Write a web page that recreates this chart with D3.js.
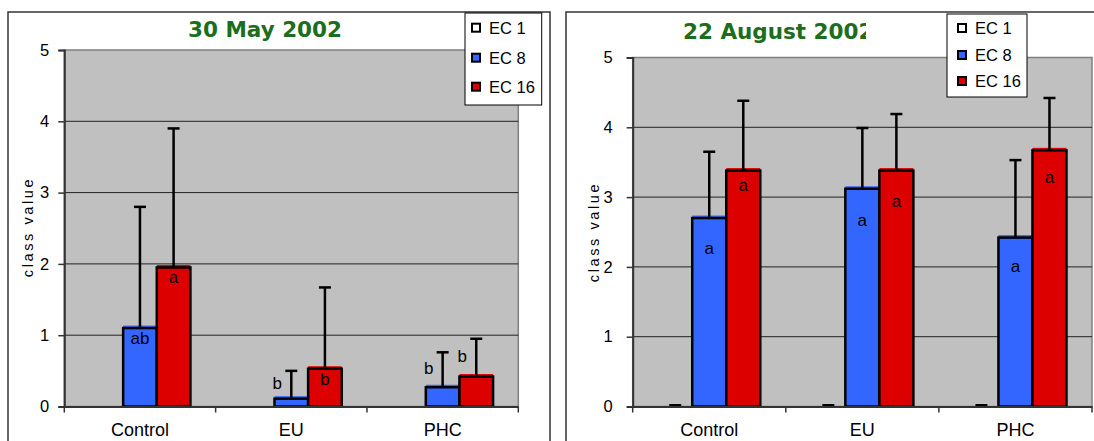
<!DOCTYPE html>
<html>
<head>
<meta charset="utf-8">
<script src="https://cdn.jsdelivr.net/npm/d3@7"></script>
<style>
  body { margin: 0; background: #fff; }
  svg { display: block; }
  text { font-family: "Liberation Sans", Arial, sans-serif; fill: #000; }
</style>
</head>
<body>
<div id="chart"></div>
<script>
// categories and series
var categories = ["Control", "EU", "PHC"];
var seriesNames = ["EC 1", "EC 8", "EC 16"];
var yTicks = [0, 1, 2, 3, 4, 5];

// 30 May 2002 (EC 1 not shown)
var mayEC1 = [null, null, null];
var mayEC8 = [1.10, 0.11, 0.27];
var mayEC16 = [1.95, 0.53, 0.42];
var mayErr1 = [null, null, null];
var mayErr8 = [1.70, 0.39, 0.49];
var mayErr16 = [1.95, 1.14, 0.53];
var mayLetters8 = ["ab", "b", "b"];
var mayLetters16 = ["a", "b", "b"];

// 22 August 2002
var augEC1 = [0, 0, 0];
var augEC8 = [2.70, 3.12, 2.42];
var augEC16 = [3.38, 3.38, 3.67];
var augErr1 = [0, 0, 0];
var augErr8 = [0.95, 0.87, 1.11];
var augErr16 = [1.00, 0.81, 0.75];
var augLetters8 = ["a", "a", "a"];
var augLetters16 = ["a", "a", "a"];

var color = d3.scaleOrdinal()
    .domain(seriesNames)
    .range(["#ffffff", "#3366ff", "#dd0000"]);

var svg = d3.select("#chart")
    .append("svg")
    .attr("width", 1094)
    .attr("height", 441);

svg.append("defs").append("clipPath")
    .attr("id", "augTitleClip")
    .append("rect")
    .attr("x", 600).attr("y", 0).attr("width", 266).attr("height", 60);

function drawPanel(cfg, vals, errs, letters, place) {
    var g = svg.append("g");

    // panel frame
    g.append("rect")
        .attr("x", cfg.panel[0]).attr("y", cfg.panel[1])
        .attr("width", cfg.panel[2]).attr("height", cfg.panel[3])
        .attr("fill", "#fff").attr("stroke", "#333").attr("stroke-width", 1.5);

    var x = d3.scaleBand().domain(categories).range([cfg.x0, cfg.x1]);
    var xs = d3.scaleBand().domain(seriesNames).range([0, x.bandwidth()]).paddingOuter(0.75);
    var y = d3.scaleLinear().domain([0, 5]).range([cfg.y0, cfg.y5]);

    // plot area
    g.append("rect")
        .attr("x", cfg.x0).attr("y", y(5))
        .attr("width", cfg.x1 - cfg.x0).attr("height", y(0) - y(5))
        .attr("fill", "#c0c0c0").attr("stroke", "#808080").attr("stroke-width", 1.5);

    // gridlines
    g.selectAll("line.grid")
        .data(yTicks.slice(1, -1))
        .enter().append("line")
        .attr("x1", cfg.x0).attr("x2", cfg.x1)
        .attr("y1", d => y(d)).attr("y2", d => y(d))
        .attr("stroke", "#222").attr("stroke-width", 1);

    // bars
    seriesNames.forEach(function (s, si) {
        categories.forEach(function (c, ci) {
            var v = vals[si][ci];
            if (v === null || v <= 0) return;
            var bx = x(c) + xs(s);
            g.append("rect")
                .attr("x", bx).attr("y", y(v) - 2.5)
                .attr("width", xs.bandwidth()).attr("height", y(0) - y(v) + 2.5)
                .attr("fill", color(s));
            g.append("rect")
                .attr("x", bx).attr("y", y(v))
                .attr("width", xs.bandwidth()).attr("height", y(0) - y(v))
                .attr("fill", color(s)).attr("stroke", "#000").attr("stroke-width", 2.5);
        });
    });

    // error bars (upper only)
    seriesNames.forEach(function (s, si) {
        categories.forEach(function (c, ci) {
            var v = vals[si][ci], e = errs[si][ci];
            if (v === null || e === null) return;
            var cx = x(c) + xs(s) + xs.bandwidth() / 2;
            g.append("line")
                .attr("x1", cx).attr("x2", cx)
                .attr("y1", y(v)).attr("y2", y(v + e))
                .attr("stroke", "#000").attr("stroke-width", 2.5);
            g.append("line")
                .attr("x1", cx - 6).attr("x2", cx + 6)
                .attr("y1", y(v + e) - (e === 0 ? 1 : 0)).attr("y2", y(v + e) - (e === 0 ? 1 : 0))
                .attr("stroke", "#000").attr("stroke-width", e === 0 ? 3 : 2.5);
        });
    });

    // significance letters
    [1, 2].forEach(function (si) {
        var s = seriesNames[si];
        categories.forEach(function (c, ci) {
            var v = vals[si][ci], e = errs[si][ci];
            var cx = x(c) + xs(s) + xs.bandwidth() / 2;
            var p = place[si - 1][ci];
            var tx = cx, ty;
            if (p === "left") {
                tx = cx - 14;
                ty = (y(v) + y(v + e)) / 2 + 4;
            } else {
                ty = y(v) + p;
            }
            g.append("text")
                .attr("x", tx).attr("y", ty)
                .attr("text-anchor", "middle")
                .style("font-size", "17px")
                .text(letters[si - 1][ci]);
        });
    });

    // y axis
    var yAxis = g.append("g")
        .attr("transform", "translate(" + cfg.x0 + ",0)")
        .call(d3.axisLeft(y).tickValues(yTicks).tickSize(6).tickPadding(cfg.tickPad).tickFormat(d3.format("d")));
    yAxis.select(".domain").attr("stroke", "#333").attr("stroke-width", 2);
    yAxis.selectAll(".tick line").attr("stroke", "#333").attr("stroke-width", 1.5);
    yAxis.selectAll("text").style("font-size", "16.5px").attr("fill", "#000");

    // x axis
    var xAxis = g.append("g")
        .attr("transform", "translate(0," + cfg.y0 + ")")
        .call(d3.axisBottom(x).tickSize(0).tickPadding(17));
    xAxis.select(".domain").attr("stroke", "#333").attr("stroke-width", 2);
    xAxis.selectAll("text").style("font-size", "18px").attr("fill", "#000");
    xAxis.selectAll("line.bound")
        .data(categories.map(c => x(c)).concat([cfg.x1]))
        .enter().append("line")
        .attr("x1", d => d).attr("x2", d => d)
        .attr("y1", 0).attr("y2", 6)
        .attr("stroke", "#333").attr("stroke-width", 1.5);

    // y axis title
    g.append("text")
        .attr("transform", "translate(" + cfg.yTitle[0] + "," + cfg.yTitle[1] + ") rotate(-90)")
        .attr("text-anchor", "middle")
        .attr("dy", "0.35em")
        .style("font-size", "14.5px")
        .style("letter-spacing", "2.6px")
        .text("class value");

    // title
    var t = g.append("text")
        .attr("x", cfg.title[0]).attr("y", cfg.title[1])
        .attr("text-anchor", cfg.titleAnchor)
        .style("font-family", "'DejaVu Sans', Verdana, sans-serif")
        .style("font-size", "21.5px")
        .style("font-weight", "bold")
        .style("fill", "#1b6e1b")
        .text(cfg.titleText);
    if (cfg.titleClip) t.attr("clip-path", "url(#" + cfg.titleClip + ")");

    // legend
    var lg = g.append("g");
    lg.append("rect")
        .attr("x", cfg.legend[0]).attr("y", cfg.legend[1])
        .attr("width", cfg.legend[2]).attr("height", cfg.legend[3])
        .attr("fill", "#fff").attr("stroke", "#000").attr("stroke-width", 1);
    seriesNames.forEach(function (s, i) {
        var ry = cfg.legendRows[i];
        lg.append("rect")
            .attr("x", cfg.legendMarkX).attr("y", ry - 4)
            .attr("width", 8).attr("height", 8)
            .attr("fill", color(s)).attr("stroke", "#000").attr("stroke-width", 2);
        lg.append("text")
            .attr("x", cfg.legendTextX).attr("y", ry)
            .attr("dy", "0.36em")
            .style("font-size", "16.5px")
            .text(s);
    });
}

drawPanel({
    panel: [8, 12, 542, 440],
    x0: 64.3, x1: 518.3, y0: 406.5, y5: 50,
    tickPad: 9,
    yTitle: [27.5, 227],
    title: [265, 37], titleAnchor: "middle", titleText: "30 May 2002",
    legend: [465, 13, 76.7, 92],
    legendRows: [27.7, 57.7, 86.7],
    legendMarkX: 472, legendTextX: 489
}, [mayEC1, mayEC8, mayEC16], [mayErr1, mayErr8, mayErr16], [mayLetters8, mayLetters16],
   [[16, "left", "left"], [16, 16, "left"]]);

drawPanel({
    panel: [566, 12, 560, 440],
    x0: 632.7, x1: 1092, y0: 406.5, y5: 57.5,
    tickPad: 14,
    yTitle: [594, 232],
    title: [683, 39], titleAnchor: "start", titleText: "22 August 2002", titleClip: "augTitleClip",
    legend: [947, 14, 80, 83],
    legendRows: [28, 55, 81],
    legendMarkX: 958, legendTextX: 975
}, [augEC1, augEC8, augEC16], [augErr1, augErr8, augErr16], [augLetters8, augLetters16],
   [[36, 37, 34], [20, 36, 33]]);
</script>
</body>
</html>
